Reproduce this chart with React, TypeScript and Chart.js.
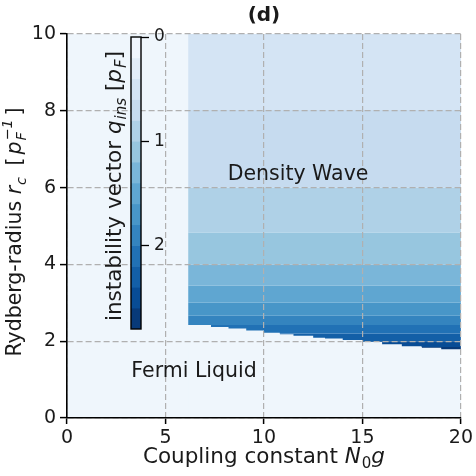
import React, { useEffect, useRef } from 'react';
import { Chart, registerables } from 'chart.js';
Chart.register(...registerables);

const FONT = '"DejaVu Sans", sans-serif';
const TEXT = '#1a1a1a';

// colour levels of q_ins (colorbar), 14 bands of 0.2 from 0 to 2.8
const qLevels = [0, 0.2, 0.4, 0.6, 0.8, 1.0, 1.2, 1.4, 1.6, 1.8, 2.0, 2.2, 2.4, 2.6, 2.8];
const bandColors = [
  '#f0f6fd', '#e2edf8', '#d4e4f4', '#c6dbef', '#afd1e7', '#97c6df', '#7ab6d9',
  '#5fa6d1', '#4896c8', '#3484bf', '#2171b5', '#135fa7', '#084c95', '#083a79',
];
const fermiColor = '#eff6fc';

// density-wave region: g range and horizontal band edges (r_c)
const dwRange = [6.15, 20];
const bandLevel = [2, 3, 4, 5, 6, 7, 8, 9, 10, 11, 12, 13];
const bandTop = [10, 8.02, 6.0, 4.83, 4.0, 3.45, 3.01, 2.66, 2.42, 2.2, 2.0, 1.85];
const bandBottom = [8.02, 6.0, 4.83, 4.0, 3.45, 3.01, 2.66, 2.42, 2.2, 2.0, 1.85, 1.74];

// phase boundary (staircase) between Fermi liquid and density wave
const boundaryG = [6.15, 7.3, 8.2, 9.1, 10.0, 10.8, 11.5, 12.5, 13.1, 14.0, 15.0, 16.0, 17.0, 18.0, 19.0, 20.0];
const boundaryR = [2.42, 2.37, 2.33, 2.28, 2.22, 2.18, 2.14, 2.09, 2.07, 2.03, 1.98, 1.92, 1.87, 1.83, 1.79, 1.76];

const xMin = 0, xMax = 20, xStep = 5;
const yMin = 0, yMax = 10, yStep = 2;
const cbMin = 0, cbMax = 2.8;
const cbTicks = [0, 1, 2];

type Seg = { t: string; it?: boolean; sub?: string; sup?: string; subIt?: boolean; bold?: boolean; gap?: number };

function drawRich(ctx: CanvasRenderingContext2D, segs: Seg[], x: number, y: number, size: number, rot: number) {
  ctx.save();
  ctx.translate(x, y);
  ctx.rotate(rot);
  const font = (s: number, it?: boolean, bold?: boolean) => `${it ? 'italic ' : ''}${bold ? 'bold ' : ''}${s}px ${FONT}`;
  const small = size * 0.7;
  let w = 0;
  const parts = segs.map((sg) => {
    ctx.font = font(size, sg.it, sg.bold);
    const mw = ctx.measureText(sg.t).width;
    let sw = 0;
    if (sg.sub || sg.sup) {
      ctx.font = font(small, sg.subIt ?? sg.it);
      sw = Math.max(sg.sub ? ctx.measureText(sg.sub).width : 0, sg.sup ? ctx.measureText(sg.sup).width : 0) + 1;
    }
    const gp = sg.gap || 0;
    w += mw + sw + gp;
    return { mw, sw, gp };
  });
  let cx = -w / 2;
  ctx.fillStyle = TEXT;
  ctx.textAlign = 'left';
  ctx.textBaseline = 'alphabetic';
  segs.forEach((sg, i) => {
    ctx.font = font(size, sg.it, sg.bold);
    ctx.fillText(sg.t, cx, 0);
    cx += parts[i].mw;
    if (sg.sub || sg.sup) {
      ctx.font = font(small, sg.subIt ?? sg.it);
      if (sg.sub) ctx.fillText(sg.sub, cx + 1, size * 0.24);
      if (sg.sup) ctx.fillText(sg.sup, cx + 1, -size * 0.42);
      cx += parts[i].sw;
    }
    cx += parts[i].gp;
  });
  ctx.restore();
}

const mainLabels = {
  id: 'mainLabels',
  afterDraw(chart: any) {
    const ctx = chart.ctx as CanvasRenderingContext2D;
    const xs = chart.scales.x, ys = chart.scales.y;
    const ca = chart.chartArea;
    drawRich(ctx, [{ t: '(d)', bold: true }], (ca.left + ca.right) / 2, 21, 20, 0);
    drawRich(ctx, [{ t: 'Coupling constant ' }, { t: 'N', it: true, sub: '0', subIt: false }, { t: 'g', it: true }], (ca.left + ca.right) / 2, 463, 21.5, 0);
    drawRich(ctx, [
      { t: 'Rydberg-radius ' },
      { t: 'r', it: true, sub: 'c', gap: 5 },
      { t: ' [', gap: 3 },
      { t: 'p', it: true, sub: 'F', sup: '−1', subIt: true, gap: 4 },
      { t: ']' },
    ], 21, 232, 20.5, -Math.PI / 2);
    drawRich(ctx, [{ t: 'Density Wave' }], xs.getPixelForValue(11.73), ys.getPixelForValue(6.2), 20.5, 0);
    drawRich(ctx, [{ t: 'Fermi Liquid' }], xs.getPixelForValue(6.45), ys.getPixelForValue(1.08), 20.5, 0);
  },
  beforeDatasetsDraw(chart: any) {
    const ctx = chart.ctx as CanvasRenderingContext2D;
    const ca = chart.chartArea;
    ctx.save();
    ctx.fillStyle = fermiColor;
    ctx.fillRect(ca.left, ca.top, ca.right - ca.left, ca.bottom - ca.top);
    ctx.restore();
  },
};

const cbFrame = {
  id: 'cbFrame',
  afterDraw(chart: any) {
    const ctx = chart.ctx as CanvasRenderingContext2D;
    const ca = chart.chartArea;
    ctx.save();
    ctx.strokeStyle = '#000';
    ctx.lineWidth = 1.4;
    ctx.strokeRect(ca.left, ca.top, ca.right - ca.left, ca.bottom - ca.top);
    ctx.restore();
    drawRich(ctx, [
      { t: 'instability vector ' },
      { t: 'q', it: true, sub: 'ins' },
      { t: ' [' },
      { t: 'p', it: true, sub: 'F' },
      { t: ']' },
    ], 25.5, 171, 21.5, -Math.PI / 2);
  },
};

// first g at which the boundary lies below a band's top edge (band visible from there on)
function bandStart(top: number): number {
  for (let j = 0; j < boundaryR.length; j++) {
    if (boundaryR[j] < top) return Math.max(boundaryG[j], dwRange[0]);
  }
  return dwRange[1];
}

function mainConfig(): any {
  const datasets: any[] = bandLevel.map((k, i) => ({
    type: 'line',
    data: [
      { x: bandStart(bandTop[i]), y: bandTop[i] },
      { x: dwRange[1], y: bandTop[i] },
    ],
    fill: { value: bandBottom[i] },
    backgroundColor: bandColors[k],
    borderColor: 'rgba(0,0,0,0)',
    borderWidth: 0,
    pointRadius: 0,
    order: 10 + i,
  }));
  datasets.push({
    type: 'line',
    data: boundaryG.map((g, i) => ({ x: g, y: boundaryR[i] })),
    stepped: true,
    fill: 'origin',
    backgroundColor: fermiColor,
    borderColor: 'rgba(0,0,0,0)',
    borderWidth: 0,
    pointRadius: 0,
    order: 0,
  });
  const axisCommon = (step: number) => ({
    type: 'linear',
    ticks: { stepSize: step, font: { family: FONT, size: 19 }, color: TEXT, z: 2, maxRotation: 0, autoSkip: false },
    grid: { color: '#b0b0b0', lineWidth: 1.2, z: 1, drawTicks: true, tickColor: '#000', tickWidth: 1.5, tickBorderDash: [] },
    border: { display: true, color: '#000', width: 1.6, dash: [6, 3], z: 2 },
  });
  const xAxis: any = axisCommon(xStep);
  xAxis.min = xMin; xAxis.max = xMax;
  xAxis.ticks.padding = 3;
  xAxis.grid.tickLength = 6;
  xAxis.afterFit = (s: any) => { s.height = 58; };
  const yAxis: any = axisCommon(yStep);
  yAxis.min = yMin; yAxis.max = yMax;
  yAxis.ticks.padding = 4;
  yAxis.grid.tickLength = 7;
  yAxis.afterFit = (s: any) => { s.width = 67; };
  return {
    type: 'line',
    data: { datasets },
    options: {
      responsive: false,
      animation: false,
      devicePixelRatio: 1,
      layout: { padding: { top: 34, right: 15, left: 0, bottom: 0 } },
      plugins: { legend: { display: false }, tooltip: { enabled: false }, title: { display: false } },
      scales: { x: xAxis, y: yAxis },
    },
    plugins: [mainLabels],
  };
}

function cbConfig(): any {
  return {
    type: 'bar',
    data: {
      labels: ['q'],
      datasets: bandColors.map((c, i) => ({
        data: [[qLevels[i], qLevels[i + 1]]],
        backgroundColor: c,
        borderWidth: 0,
        categoryPercentage: 1,
        barPercentage: 1,
      })),
    },
    options: {
      responsive: false,
      animation: false,
      devicePixelRatio: 1,
      layout: { padding: { left: 36, top: 22, bottom: 26, right: 0 } },
      plugins: { legend: { display: false }, tooltip: { enabled: false } },
      scales: {
        x: { display: false, stacked: true },
        y: {
          type: 'linear', min: cbMin, max: cbMax, reverse: true, position: 'right', stacked: false,
          afterBuildTicks: (s: any) => { s.ticks = cbTicks.map((v) => ({ value: v })); },
          ticks: { font: { family: FONT, size: 17 }, color: TEXT, padding: 5 },
          grid: { drawOnChartArea: false, drawTicks: true, tickLength: 8, tickColor: '#000', tickWidth: 1.3 },
          border: { display: false },
          afterFit: (s: any) => { s.width = 44; },
        },
      },
    },
    plugins: [cbFrame],
  };
}

export default function App() {
  const mainRef = useRef<HTMLCanvasElement>(null);
  const cbRef = useRef<HTMLCanvasElement>(null);
  useEffect(() => {
    const c1 = new Chart(mainRef.current as HTMLCanvasElement, mainConfig());
    const c2 = new Chart(cbRef.current as HTMLCanvasElement, cbConfig());
    return () => { c1.destroy(); c2.destroy(); };
  }, []);
  return (
    <div style={{ position: 'fixed', left: 0, top: 0, width: 476, height: 476, background: '#fff' }}>
      <canvas ref={mainRef} width={476} height={476} style={{ position: 'absolute', left: 0, top: 0, width: 476, height: 476 }} />
      <canvas ref={cbRef} width={90} height={340} style={{ position: 'absolute', left: 95, top: 15, width: 90, height: 340 }} />
    </div>
  );
}
